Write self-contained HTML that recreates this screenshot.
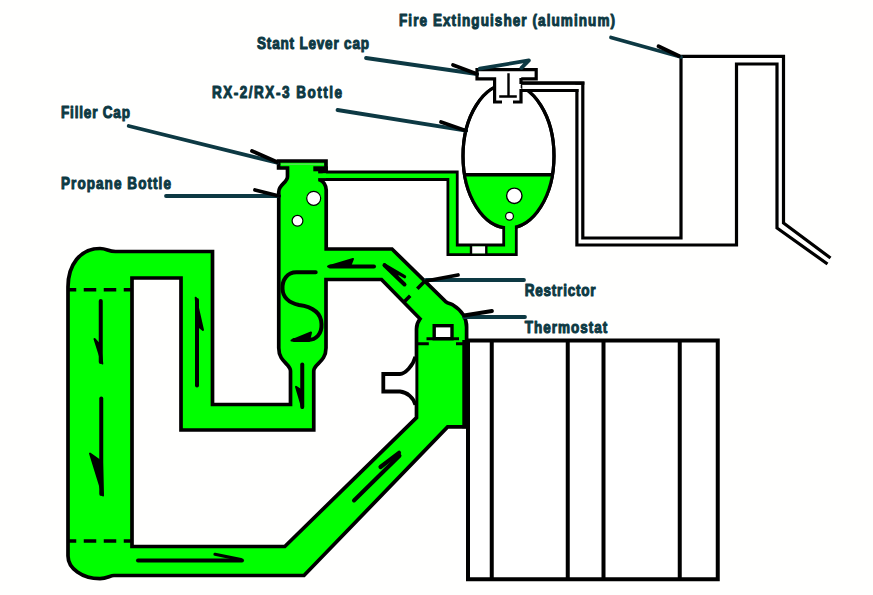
<!DOCTYPE html>
<html><head><meta charset="utf-8">
<style>
html,body{margin:0;padding:0;background:#fff;}
body{width:873px;height:595px;overflow:hidden;}
svg{display:block;}
text{font-family:"Liberation Sans",sans-serif;font-weight:bold;font-size:16.5px;fill:#0d3943;stroke:#0d3943;stroke-width:1.05px;stroke-linejoin:round;}
</style></head><body>
<svg width="873" height="595" viewBox="0 0 873 595">
<rect width="873" height="595" fill="#fffffe"/>

<!-- radiator -->
<g fill="none" stroke="#000" stroke-width="4" stroke-linejoin="miter">
<rect x="468" y="340.5" width="249.75" height="238.75" fill="#fff"/>
<path d="M491.75 340.5V579M567.75 340.5V579M603.5 340.5V579M679.75 340.5V579"/>
</g>

<!-- extinguisher pipes -->
<g fill="none" stroke="#000" stroke-width="3.2" stroke-linejoin="miter">
<path d="M521 83.2H582.8V238H681V56.3H783.5V223L830.5 258"/>
<path d="M521 90.5H576.9V245H736.5V64H777V228L827.5 264"/>
</g>

<!-- thin tube from propane cap to RX bottle -->
<path fill="#00ff00" stroke="#000" stroke-width="2.8" stroke-linejoin="miter"
 d="M322 172H457.25V245H503.7V224H516.3V254.7H447.9V179.5H318Z"/>
<rect x="471" y="246.4" width="15.3" height="7" fill="#fff"/>
<path d="M471 245V254.7M486.3 245V254.7" stroke="#000" stroke-width="2.4" fill="none"/>

<!-- RX bottle -->
<defs><clipPath id="liq"><rect x="440" y="174.7" width="140" height="80"/></clipPath></defs>
<ellipse cx="508.5" cy="156" rx="45.5" ry="72" fill="#fff" stroke="#000" stroke-width="3.2"/>
<ellipse cx="508.5" cy="156" rx="45.5" ry="72" fill="#00ff00" clip-path="url(#liq)"/>
<ellipse cx="508.5" cy="156" rx="45.5" ry="72" fill="none" stroke="#000" stroke-width="3.2"/>
<rect x="505.1" y="222" width="9.8" height="8" fill="#00ff00"/>
<path d="M464 174.7H553" stroke="#000" stroke-width="3.6"/>
<circle cx="514.3" cy="195.8" r="7.7" fill="#fff" stroke="#000" stroke-width="1.4"/>
<circle cx="509.5" cy="216.2" r="3.9" fill="#fff" stroke="#000" stroke-width="1.2"/>

<!-- extinguisher head -->
<path d="M477 69.6H536.2V78.8H521V102H513.5V102H520.7" fill="none"/>
<path d="M494.6 102V78.8H477V69.6H536.2V78.8H520.7V102Z" fill="#fff" stroke="none"/>
<path d="M502 102H494.6V78.8H477V69.6H536.2V78.8H521.2" fill="none" stroke="#000" stroke-width="3.2" stroke-linejoin="miter"/>
<rect x="522.3" y="84.6" width="53" height="4.5" fill="#fff"/>
<path d="M521 90.5H578.5M521 83.2H584.4" stroke="#000" stroke-width="3.2" fill="none"/>
<path d="M521 78V84M521 89V102H513" fill="none" stroke="#000" stroke-width="3.2" stroke-linejoin="miter"/>
<path d="M508.5 73.3V96.5M499.2 96.5H516.8" fill="none" stroke="#000" stroke-width="2.4"/>
<path d="M479.8 68.7L528.9 60.4L521.5 67.8" fill="none" stroke="#0d3943" stroke-width="3.8" stroke-linejoin="round" stroke-linecap="round"/>

<!-- main green body -->
<path id="main" fill="#00ff00" fill-rule="evenodd" stroke="#000" stroke-width="3.7" stroke-linejoin="miter"
 d="M68 287C68 265 80 248.5 100 248.5C107 248.5 108 251.5 115.5 251.5H212.5V404.5H290.5V371C290.5 364 278.75 362 278.75 348V192C278.75 184 287.5 183 287.5 176.5V168H278.6V161H326V170.5H320V180C323 181 326.2 185 326.2 190V249H392L445.4 301.4C449 304 451 303.5 453 305C461 310 466.6 317 466.6 327V426.9H447.6L304 575.5H114C110 575.5 107 578.7 100 578.7C82.3 578.7 68 568.5 68 556Z
 M132 278H181V430H313.75V371C313.75 364 326 362 326 348V279.5H381.5L420 318.8C417.5 322 416.5 325 416.5 329V417.6L284.8 546.5H132Z"/>
<!-- rejoin thin tube green -->
<rect x="318" y="173.4" width="8" height="4.7" fill="#00ff00"/>
<!-- cap right block -->
<rect x="313.3" y="166.3" width="14.5" height="5" fill="#000"/>
<path d="M281 164.2H324" stroke="#55e055" stroke-width="1.4"/>
<!-- thick right line -->
<rect x="462.3" y="340" width="7.3" height="88.3" fill="#000"/>

<!-- bubbles propane -->
<circle cx="313.7" cy="198.3" r="7" fill="#fff" stroke="#000" stroke-width="1.2"/>
<circle cx="297.5" cy="220.8" r="5.4" fill="#fff" stroke="#000" stroke-width="1.2"/>

<!-- bracket -->
<path d="M415.4 356.6C413 366 405 374 400 374H383.3V391.5H400C407 392 414 398 415.4 405" fill="#fff" stroke="#000" stroke-width="3.8" stroke-linejoin="miter"/>

<!-- thermostat -->
<rect x="434.2" y="325.7" width="17.8" height="13" fill="#fff" stroke="#000" stroke-width="3.4"/>
<path d="M426.5 338.8H459M416.6 343.7H428.8M456 343.7H466.6" stroke="#000" stroke-width="3" fill="none"/>

<!-- dashed lines -->
<g stroke="#000" stroke-width="3.6" fill="none">
<path d="M68 289.8H132" stroke-dasharray="12.5 7.5" stroke-dashoffset="4.25"/>
<path d="M68 541H132" stroke-dasharray="12.5 7.5" stroke-dashoffset="4.25"/>
<path d="M424 282L403.5 302.5" stroke-dasharray="9.5 10"/>
</g>

<!-- flow arrows -->
<g stroke="#000" stroke-width="4" fill="none" stroke-linecap="round">
<path d="M100.75 301V362"/>
<path d="M101.25 398.5V494"/>
<path d="M138 560.5H242"/>
<path d="M354 500.5L399.5 455.7"/>
<path d="M197 385.5V300"/>
<path d="M302.25 364.5V407"/>
<path d="M374 266.5H330"/>
<path d="M404.5 284.5L384.5 265.2"/>
<path d="M384.5 265L404.5 276.6" stroke-width="3.4"/>
<path d="M384.5 265L398 272.5L398 278Z" fill="#000" stroke-width="1"/>
<path d="M215 554.3L241 559.6" stroke-width="3.2"/>
<path d="M380.5 467L399 452.8" stroke-width="4.2"/>
<path d="M315.7 272.3H297C287 272 282 280 282.5 289C283 298 290 303 299 305C310 306.5 321 311 321.5 324C322 334 316 340 308 340H294"/>
</g>
<g fill="#000" stroke="#000" stroke-width="2" stroke-linejoin="round">
<path d="M94.5 339L102.3 363.5L100 345Z"/>
<path d="M90 453.5L103 495.5L102 462Z"/>
<path d="M203 330L195.7 297.7L198 326Z"/>
<path d="M296 386.75L302.3 408L301 390Z"/>
<path d="M353 259L328 266.5L350 266.5Z"/>
<path d="M311 332.4L291.5 340.5L309 341Z"/>
</g>

<!-- leader lines -->
<g stroke="#0d3943" stroke-width="3.8" fill="none" stroke-linecap="round">
<path d="M611 37.5L681 57"/>
<path d="M366 58L477 74"/>
<path d="M337.5 110L466 130.7"/>
<path d="M128.75 126L277 162.7"/>
<path d="M166 196H279"/>
<path d="M426 280H524"/>
<path d="M464 317H525"/>
</g>
<g stroke="#000" stroke-width="3.8" fill="none" stroke-linecap="round">
<path d="M658.5 46.3L679 56"/>
<path d="M453 65L477 74"/>
<path d="M441 122L466 130.7"/>
<path d="M252 151L277 162"/>
<path d="M255 190L279 196"/>
<path d="M426 281L458 275"/>
<path d="M464 315.5L492 311"/>
</g>

<!-- labels -->
<text transform="translate(399 26) scale(0.82 1)" textLength="263.5" lengthAdjust="spacing">Fire Extinguisher (aluminum)</text>
<text transform="translate(257 49) scale(0.82 1)" textLength="136.6" lengthAdjust="spacing">Stant Lever cap</text>
<text transform="translate(212 97.5) scale(0.82 1)" textLength="158.6" lengthAdjust="spacing">RX-2/RX-3 Bottle</text>
<text transform="translate(61 118) scale(0.82 1)" textLength="84.1" lengthAdjust="spacing">Filler Cap</text>
<text transform="translate(61 188.5) scale(0.82 1)" textLength="134.1" lengthAdjust="spacing">Propane Bottle</text>
<text transform="translate(524.75 295.8) scale(0.82 1)" textLength="86.3" lengthAdjust="spacing">Restrictor</text>
<text transform="translate(524.75 332.6) scale(0.82 1)" textLength="100.6" lengthAdjust="spacing">Thermostat</text>
</svg>
</body></html>
